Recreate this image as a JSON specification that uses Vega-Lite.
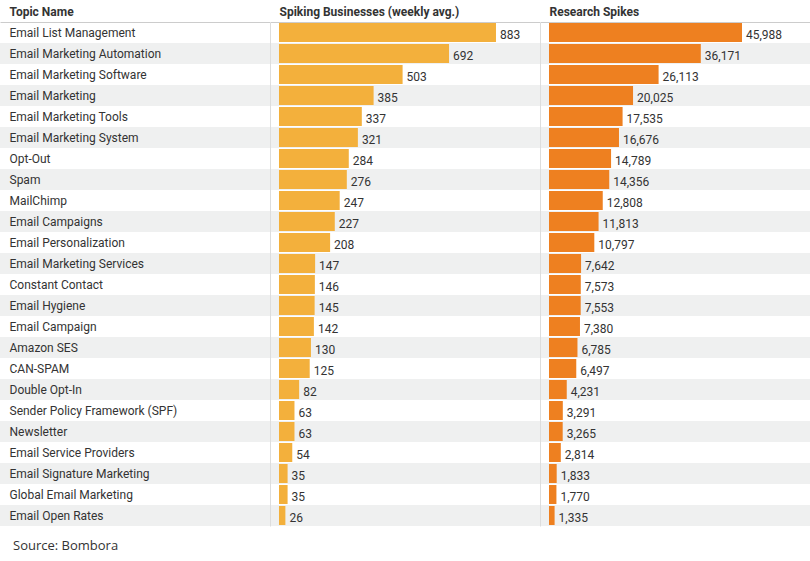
{
  "$schema": "https://vega.github.io/schema/vega-lite/v6.json",
  "padding": {"top": 5, "left": 0, "right": 0, "bottom": 0},
  "background": "white",
  "bounds": "flush",
  "spacing": 0,
  "config": {"view": {"stroke": null}, "font": "Roboto", "concat": {"spacing": 0}},
  "title": {"text": "Source: Bombora", "orient": "bottom", "anchor": "start", "font": "Open Sans", "fontSize": 13, "fontWeight": "normal", "color": "#333333", "dx": 13, "offset": 14},
  "data": {"values": [
    {"topic": "Email List Management", "spiking": 883, "research": 45988},
    {"topic": "Email Marketing Automation", "spiking": 692, "research": 36171},
    {"topic": "Email Marketing Software", "spiking": 503, "research": 26113},
    {"topic": "Email Marketing", "spiking": 385, "research": 20025},
    {"topic": "Email Marketing Tools", "spiking": 337, "research": 17535},
    {"topic": "Email Marketing System", "spiking": 321, "research": 16676},
    {"topic": "Opt-Out", "spiking": 284, "research": 14789},
    {"topic": "Spam", "spiking": 276, "research": 14356},
    {"topic": "MailChimp", "spiking": 247, "research": 12808},
    {"topic": "Email Campaigns", "spiking": 227, "research": 11813},
    {"topic": "Email Personalization", "spiking": 208, "research": 10797},
    {"topic": "Email Marketing Services", "spiking": 147, "research": 7642},
    {"topic": "Constant Contact", "spiking": 146, "research": 7573},
    {"topic": "Email Hygiene", "spiking": 145, "research": 7553},
    {"topic": "Email Campaign", "spiking": 142, "research": 7380},
    {"topic": "Amazon SES", "spiking": 130, "research": 6785},
    {"topic": "CAN-SPAM", "spiking": 125, "research": 6497},
    {"topic": "Double Opt-In", "spiking": 82, "research": 4231},
    {"topic": "Sender Policy Framework (SPF)", "spiking": 63, "research": 3291},
    {"topic": "Newsletter", "spiking": 63, "research": 3265},
    {"topic": "Email Service Providers", "spiking": 54, "research": 2814},
    {"topic": "Email Signature Marketing", "spiking": 35, "research": 1833},
    {"topic": "Global Email Marketing", "spiking": 35, "research": 1770},
    {"topic": "Email Open Rates", "spiking": 26, "research": 1335}
  ]},
  "transform": [{"window": [{"op": "row_number", "as": "idx"}]}],
  "hconcat": [
    {
      "width": 270, "height": 504,
      "encoding": {
        "y": {"field": "topic", "type": "nominal", "sort": {"field": "idx", "op": "min"},
              "scale": {"paddingInner": 0, "paddingOuter": 0},
              "axis": {"orient": "left", "title": null, "domain": false, "ticks": false, "labelAlign": "left", "labelBaseline": "middle", "labelPadding": -9, "labelFontSize": 12, "labelColor": "#333333", "labelFont": "Roboto", "labelLimit": 260, "zindex": 1}}
      },
      "layer": [
        {"mark": {"type": "rect"},
         "encoding": {
           "x": {"datum": 0, "type": "quantitative", "scale": {"domain": [0, 1], "nice": false, "zero": false},
                 "axis": {"orient": "top", "title": "Topic Name", "titleAnchor": "start", "titleAlign": "left", "titleX": 9, "titleY": -11, "titleBaseline": "middle", "titleFontSize": 12, "titleFontWeight": "bold", "titleColor": "#333333", "titleFont": "Roboto", "labels": false, "ticks": false, "grid": false, "domain": true, "domainColor": "#cccccc", "zindex": 1}},
           "x2": {"datum": 1},
           "fill": {"condition": {"test": "datum.idx % 2 == 0", "value": "#eff0f0"}, "value": "#ffffff"}
         }}
      ]
    },
    {
      "width": 270, "height": 504,
      "encoding": {
        "y": {"field": "topic", "type": "nominal", "sort": {"field": "idx", "op": "min"},
              "scale": {"paddingInner": 0, "paddingOuter": 0},
              "axis": {"title": null, "labels": false, "ticks": false, "domain": true, "domainColor": "#dddddd", "zindex": 1}}
      },
      "layer": [
        {"mark": {"type": "rect"},
         "encoding": {
           "fill": {"condition": {"test": "datum.idx % 2 == 0", "value": "#eff0f0"}, "value": "#ffffff"}
         }},
        {"mark": {"type": "bar", "height": 19, "color": "#f3b03c"},
         "encoding": {
           "x": {"field": "spiking", "type": "quantitative", "scale": {"domain": [-36.6, 1062.1], "nice": false, "zero": false},
                 "axis": {"orient": "top", "title": "Spiking Businesses (weekly avg.)", "titleAnchor": "start", "titleAlign": "left", "titleX": 9, "titleY": -11, "titleBaseline": "middle", "titleFontSize": 12, "titleFontWeight": "bold", "titleColor": "#333333", "titleFont": "Roboto", "labels": false, "ticks": false, "grid": false, "domain": true, "domainColor": "#cccccc", "zindex": 1}}
         }},
        {"mark": {"type": "text", "align": "left", "baseline": "middle", "dx": 4, "dy": 2, "fontSize": 12, "color": "#333333", "font": "Roboto"},
         "encoding": {
           "x": {"field": "spiking", "type": "quantitative"},
           "text": {"field": "spiking", "type": "quantitative", "format": ","}
         }}
      ]
    },
    {
      "width": 270, "height": 504,
      "encoding": {
        "y": {"field": "topic", "type": "nominal", "sort": {"field": "idx", "op": "min"},
              "scale": {"paddingInner": 0, "paddingOuter": 0},
              "axis": {"title": null, "labels": false, "ticks": false, "domain": true, "domainColor": "#dddddd", "zindex": 1}}
      },
      "layer": [
        {"mark": {"type": "rect"},
         "encoding": {
           "fill": {"condition": {"test": "datum.idx % 2 == 0", "value": "#eff0f0"}, "value": "#ffffff"}
         }},
        {"mark": {"type": "bar", "height": 19, "color": "#ee8020"},
         "encoding": {
           "x": {"field": "research", "type": "quantitative", "scale": {"domain": [-2144.5, 62189.7], "nice": false, "zero": false},
                 "axis": {"orient": "top", "title": "Research Spikes", "titleAnchor": "start", "titleAlign": "left", "titleX": 9, "titleY": -11, "titleBaseline": "middle", "titleFontSize": 12, "titleFontWeight": "bold", "titleColor": "#333333", "titleFont": "Roboto", "labels": false, "ticks": false, "grid": false, "domain": true, "domainColor": "#cccccc", "zindex": 1}}
         }},
        {"mark": {"type": "text", "align": "left", "baseline": "middle", "dx": 4, "dy": 2, "fontSize": 12, "color": "#333333", "font": "Roboto"},
         "encoding": {
           "x": {"field": "research", "type": "quantitative"},
           "text": {"field": "research", "type": "quantitative", "format": ","}
         }}
      ]
    }
  ]
}
